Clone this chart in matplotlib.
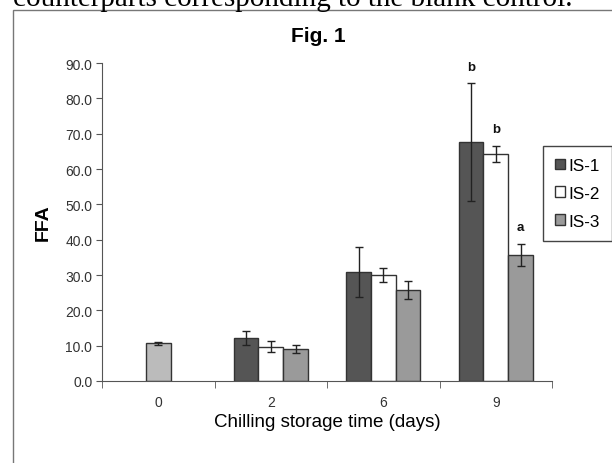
import matplotlib
matplotlib.use("Agg")
import matplotlib.pyplot as plt
from matplotlib.patches import Rectangle, Patch
import numpy as np

plt.rcParams['font.family'] = ['Liberation Sans', 'DejaVu Sans']

days = ['0', '2', '6', '9']
control_val = 10.7
control_err = 0.4
series = ['IS-1', 'IS-2', 'IS-3']
is1 = [12.2, 30.8, 67.6]
is1_err = [2.0, 7.1, 16.6]
is2 = [9.7, 30.0, 64.2]
is2_err = [1.5, 2.0, 2.3]
is3 = [9.1, 25.7, 35.7]
is3_err = [1.2, 2.6, 3.2]
letters_day9 = ['b', 'b', 'a']

colors = ['#555555', '#ffffff', '#9a9a9a']
edge = '#333333'

fig = plt.figure(figsize=(6.12, 4.64), dpi=100)
ax = fig.add_axes([102/612, 1-382/464, 450/612, (382-64)/464])

x = np.arange(len(days))
w = 0.22
ekw = dict(ecolor='#222222', elinewidth=1, capsize=3, capthick=1)

ax.bar(x[0], control_val, w, yerr=control_err, color='#bbbbbb', edgecolor=edge,
       linewidth=1, error_kw=ekw, zorder=2)
vals = [is1, is2, is3]
errs = [is1_err, is2_err, is3_err]
for i in range(3):
    ax.bar(x[1:] + (i-1)*w, vals[i], w, yerr=errs[i], color=colors[i], edgecolor=edge,
           linewidth=1, error_kw=ekw, zorder=2)

# significance letters for day 9
for i in range(3):
    top = vals[i][-1] + errs[i][-1]
    ax.text(x[-1] + (i-1)*w, top + 3.0, letters_day9[i], ha='center', va='bottom',
            fontsize=9.5, fontweight='bold', color='#111111')

ax.set_xlim(-0.5, 3.5)
ax.set_ylim(0, 90)
ax.set_yticks(np.arange(0, 91, 10))
ax.set_yticklabels(['%.1f' % v for v in np.arange(0, 91, 10)])
ax.set_xticks(x)
ax.set_xticklabels(days)
ax.set_xticks(np.arange(-0.5, 3.6, 1), minor=True)
ax.tick_params(axis='x', which='major', length=0, pad=10)
ax.tick_params(axis='x', which='minor', length=5, direction='out', color='#555555')
ax.tick_params(axis='y', length=4, color='#555555', pad=3)
ax.tick_params(labelsize=10, labelcolor='#333333')
for s in ['top', 'right']:
    ax.spines[s].set_visible(False)
for s in ['left', 'bottom']:
    ax.spines[s].set_color('#555555')
ax.set_xlabel('Chilling storage time (days)', fontsize=13.5, labelpad=3)
ax.set_ylabel('FFA', fontsize=14, fontweight='bold', labelpad=10)

fig.text(318/612, 1-36/464, 'Fig. 1', ha='center', va='center', fontsize=15,
         fontweight='bold')

handles = [Patch(facecolor=colors[i], edgecolor=edge, label=series[i]) for i in range(3)]
leg = fig.legend(handles=handles, loc='upper left', bbox_to_anchor=(543/612, 1-147/464),
                 borderaxespad=0, fontsize=12.3, handlelength=0.6, handleheight=0.6,
                 handletextpad=0.2, labelspacing=0.75, fancybox=False, framealpha=1,
                 edgecolor='#444444', borderpad=0.7)
leg.get_frame().set_linewidth(1)

# page text and frame around the figure
fig.text(13/612, 1-6/464, 'counterparts corresponding to the blank control.',
         fontsize=21, family='Liberation Serif', ha='left', va='baseline')
fig.patches.append(Rectangle((12.5/612, -0.1), 1.0, 1-11/464+0.1, transform=fig.transFigure,
                             fill=False, edgecolor='#777777', linewidth=1))

fig.savefig('out.png', dpi=100)
